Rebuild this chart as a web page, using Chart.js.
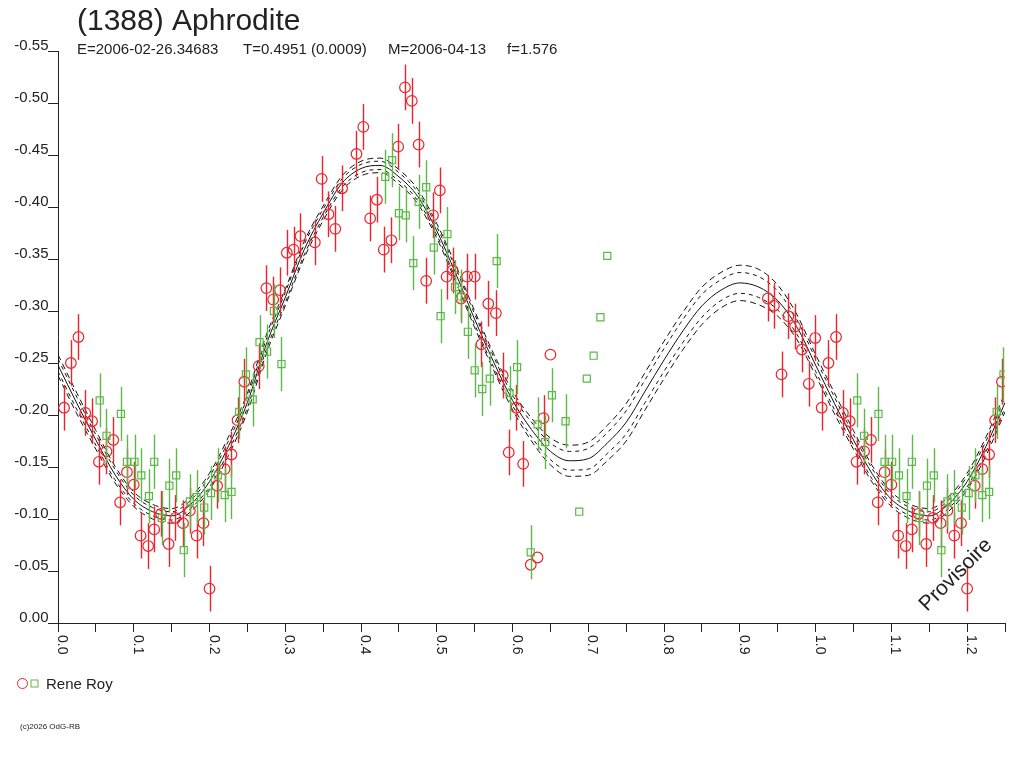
<!DOCTYPE html>
<html><head><meta charset="utf-8">
<script src="https://cdn.jsdelivr.net/npm/chart.js@4.4.0/dist/chart.umd.min.js"></script>
<style>html,body{margin:0;padding:0;background:#fff;overflow:hidden}#wrap{width:1024px;height:768px}</style>
</head><body><div id="wrap"><canvas id="c" width="1024" height="768"></canvas></div>
<script>
const titleText = "(1388) Aphrodite";
const subtitleParts = ["E=2006-02-26.34683", "T=0.4951 (0.0009)", "M=2006-04-13", "f=1.576"];
const observerName = "Rene Roy";
const copyrightText = "(c)2026 OdG-RB";
const watermarkText = "Provisoire";

const xTickMarks = [0,0.05,0.1,0.15,0.2,0.25,0.3,0.35,0.4,0.45,0.5,0.55,0.6,0.65,0.7,0.75,0.8,0.85,0.9,0.95,1.0,1.05,1.1,1.15,1.2,1.25];
const xLabelValues = [0,0.1,0.2,0.3,0.4,0.5,0.6,0.7,0.8,0.9,1.0,1.1,1.2];
const xLabels = ["0.0","0.1","0.2","0.3","0.4","0.5","0.6","0.7","0.8","0.9","1.0","1.1","1.2"];
const yTickValues = [-0.55,-0.5,-0.45,-0.4,-0.35,-0.3,-0.25,-0.2,-0.15,-0.1,-0.05,0];
const yLabels = ["-0.55","-0.50","-0.45","-0.40","-0.35","-0.30","-0.25","-0.20","-0.15","-0.10","-0.05","0.00"];

// Red circles (phase, magnitude, error)
const redPhase = [0.008,0.017,0.027,0.036,0.045,0.054,0.064,0.073,0.082,0.091,0.100,0.109,0.119,0.127,0.136,0.146,0.155,0.165,0.174,0.183,0.192,0.200,0.210,0.220,0.229,0.237,0.246,
  0.265,0.275,0.284,0.293,0.302,0.311,0.320,0.339,0.348,0.357,0.366,0.375,0.394,0.403,0.412,0.421,0.430,0.440,0.449,0.458,0.467,0.476,0.486,
  0.495,0.504,0.513,0.521,0.532,0.540,0.550,0.559,0.568,0.578,0.587,0.595,0.605,0.614,0.624,0.633,0.641,0.650,
  0.937,0.945,0.955,0.964,0.973,0.982,0.991,0.9995];
const redMag = [-0.207,-0.250,-0.275,-0.202,-0.194,-0.155,-0.165,-0.176,-0.116,-0.145,-0.133,-0.084,-0.074,-0.090,-0.105,-0.076,-0.101,-0.096,-0.108,-0.084,-0.096,-0.033,-0.132,-0.148,-0.162,-0.195,-0.232,
  -0.247,-0.322,-0.311,-0.320,-0.356,-0.359,-0.372,-0.366,-0.427,-0.393,-0.379,-0.418,-0.451,-0.477,-0.389,-0.407,-0.359,-0.368,-0.458,-0.515,-0.502,-0.460,-0.329,
  -0.392,-0.416,-0.333,-0.339,-0.312,-0.333,-0.333,-0.268,-0.307,-0.298,-0.238,-0.164,-0.207,-0.153,-0.056,-0.063,-0.197,-0.258,
  -0.312,-0.305,-0.239,-0.295,-0.285,-0.263,-0.230,-0.274];
const redErr = [0.022,0.022,0.022,0.022,0.022,0.022,0.022,0.022,0.022,0.022,0.022,0.022,0.022,0.022,0.022,0.022,0.022,0.022,0.022,0.022,0.022,0.022,0.022,0.022,0.022,0.022,0.022,
  0.022,0.022,0.022,0.022,0.022,0.022,0.022,0.022,0.022,0.022,0.022,0.022,0.022,0.022,0.022,0.022,0.022,0.022,0.022,0.022,0.022,0.022,0.022,
  0.022,0.022,0.022,0.022,0.022,0.022,0.022,0.022,0.022,0.022,0.022,0.022,0.022,0.022,0,0,0.022,0,
  0.022,0.022,0.022,0.022,0.022,0.022,0.022,0.022];

// Green squares (phase, magnitude, error)
const greenPhase = [0.055,0.064,0.083,0.091,0.101,0.110,0.120,0.127,0.137,0.147,0.156,0.166,0.174,0.183,0.193,0.202,0.211,0.220,0.229,0.239,0.248,0.257,
  0.266,0.276,0.285,0.295,0.432,0.441,0.450,0.459,0.469,0.476,0.486,
  0.496,0.505,0.514,0.524,0.532,0.541,0.550,0.560,0.570,0.579,0.596,0.606,0.624,0.633,0.643,0.652,0.670,0.688,0.698,0.707,0.716,0.725];
const greenMag = [-0.214,-0.180,-0.201,-0.155,-0.155,-0.142,-0.122,-0.155,-0.101,-0.132,-0.142,-0.070,-0.117,-0.121,-0.111,-0.125,-0.142,-0.123,-0.126,-0.203,-0.239,-0.215,
  -0.270,-0.261,-0.300,-0.249,-0.429,-0.445,-0.394,-0.392,-0.346,-0.405,-0.419,
  -0.361,-0.295,-0.374,-0.323,-0.314,-0.280,-0.243,-0.225,-0.235,-0.348,-0.221,-0.246,-0.068,-0.191,-0.174,-0.219,-0.194,-0.107,-0.235,-0.257,-0.294,-0.353];
const greenErr = [0.026,0.026,0.026,0.026,0.026,0.026,0.026,0.026,0.026,0.026,0.026,0.026,0.026,0.026,0.026,0.026,0.026,0.026,0.026,0.026,0.026,0.026,
  0.026,0.026,0.026,0.026,0.026,0.026,0.026,0.026,0.026,0.026,0.026,
  0.026,0.026,0.026,0.026,0.026,0.026,0.026,0.026,0.026,0.026,0.026,0.026,0.026,0.026,0.026,0.026,0.026,0,0,0,0,0];

// Fitted curve (one period) and its uncertainty envelopes
const curvePhase = [0,0.025,0.05,0.075,0.1,0.125,0.15,0.175,0.2,0.225,0.25,0.275,0.3,0.325,0.35,0.375,0.4,0.425,0.45,0.475,0.5,0.525,0.55,0.575,0.6,0.625,0.65,0.675,0.7,0.725,0.75,0.775,0.8,0.825,0.85,0.875,0.9,0.925,0.95,0.975,1.0];
const curveMag = [-0.248,-0.211,-0.176,-0.143,-0.119,-0.107,-0.103,-0.114,-0.136,-0.170,-0.212,-0.268,-0.313,-0.359,-0.394,-0.423,-0.437,-0.440,-0.429,-0.410,-0.377,-0.336,-0.292,-0.251,-0.214,-0.186,-0.165,-0.156,-0.158,-0.173,-0.193,-0.223,-0.253,-0.281,-0.305,-0.320,-0.327,-0.323,-0.310,-0.285,-0.248];
const bandOuter = [0.010,0.010,0.009,0.008,0.007,0.007,0.007,0.007,0.008,0.009,0.009,0.009,0.008,0.008,0.007,0.007,0.007,0.007,0.007,0.007,0.007,0.008,0.008,0.008,0.009,0.011,0.013,0.015,0.016,0.017,0.018,0.018,0.018,0.018,0.018,0.017,0.017,0.017,0.015,0.012,0.010];
const bandInner = [0.006,0.006,0.005,0.005,0.004,0.004,0.004,0.004,0.005,0.005,0.005,0.005,0.005,0.005,0.004,0.004,0.004,0.004,0.004,0.004,0.004,0.005,0.005,0.005,0.005,0.007,0.008,0.009,0.010,0.010,0.011,0.011,0.011,0.011,0.011,0.010,0.010,0.010,0.009,0.007,0.006];

const PHASE_MAX = 1.25;
const FONT = '"Liberation Sans", Arial, sans-serif';
const INK = '#222';
const RED = '#f0222a';
const GREEN = '#5cb847';

function pointsWithWrap(ph, mg, er) {
  const out = [];
  for (let i = 0; i < ph.length; i++) {
    out.push({x: ph[i], y: mg[i], e: er[i]});
    if (ph[i] + 1 <= PHASE_MAX) out.push({x: ph[i] + 1, y: mg[i], e: er[i]});
  }
  return out;
}
function curveWithWrap(offsets, sign) {
  const out = [];
  for (let i = 0; i < curvePhase.length; i++) {
    const v = curveMag[i] + (offsets ? sign * offsets[i] : 0);
    out.push({x: curvePhase[i], y: v});
  }
  for (let i = 1; i < curvePhase.length; i++) {
    if (curvePhase[i] + 1 > PHASE_MAX + 1e-9) break;
    const v = curveMag[i] + (offsets ? sign * offsets[i] : 0);
    out.push({x: curvePhase[i] + 1, y: v});
  }
  return out;
}

const lineBase = {showLine: true, pointRadius: 0, borderColor: '#111', borderWidth: 1, cubicInterpolationMode: 'monotone', fill: false};

const errorBars = {
  id: 'errorBars',
  beforeDatasetDraw(chart, args) {
    const ds = chart.data.datasets[args.index];
    if (!ds.isObs) return;
    const ys = chart.scales.y, ctx = chart.ctx, ca = chart.chartArea;
    ctx.save();
    ctx.beginPath(); ctx.rect(ca.left, ca.top, ca.right - ca.left, ca.bottom - ca.top + 1); ctx.clip();
    ctx.strokeStyle = ds.borderColor; ctx.lineWidth = 1.4;
    ds.data.forEach((p, i) => {
      if (!p.e) return;
      const el = args.meta.data[i];
      const px = Math.round(el.x) + 0.5;
      ctx.beginPath();
      ctx.moveTo(px, ys.getPixelForValue(p.y - p.e));
      ctx.lineTo(px, ys.getPixelForValue(p.y + p.e));
      ctx.stroke();
    });
    ctx.restore();
  }
};

const texts = {
  id: 'texts',
  afterDraw(chart) {
    const ctx = chart.ctx, xs = chart.scales.x, ys = chart.scales.y;
    ctx.save();
    ctx.fillStyle = INK;
    ctx.textBaseline = 'alphabetic';
    // title
    ctx.textAlign = 'left';
    ctx.font = '30px ' + FONT;
    ctx.fillText(titleText, 77, 30);
    // subtitle
    ctx.font = '15px ' + FONT;
    const subX = [77, 243, 388, 507];
    subtitleParts.forEach((t, i) => ctx.fillText(t, subX[i], 54));
    // y labels
    ctx.font = '15px ' + FONT;
    ctx.textAlign = 'right';
    yTickValues.forEach((v, i) => ctx.fillText(yLabels[i], 48.5, ys.getPixelForValue(v) - 1));
    // x labels rotated clockwise
    ctx.font = '14px ' + FONT;
    ctx.textAlign = 'left';
    xLabelValues.forEach((v, i) => {
      const px = xs.getPixelForValue(v);
      ctx.save();
      ctx.translate(px, 635);
      ctx.rotate(Math.PI / 2);
      ctx.fillText(xLabels[i], 0, 0);
      ctx.restore();
    });
    // legend
    ctx.lineWidth = 1;
    ctx.strokeStyle = RED;
    ctx.beginPath(); ctx.arc(22.5, 683.5, 5, 0, Math.PI * 2); ctx.stroke();
    ctx.strokeStyle = GREEN;
    ctx.strokeRect(31, 680, 7, 7);
    ctx.fillStyle = INK;
    ctx.font = '15px ' + FONT;
    ctx.fillText(observerName, 46, 688.5);
    // copyright
    ctx.font = '8px ' + FONT;
    ctx.fillText(copyrightText, 20, 728.5);
    // watermark
    ctx.save();
    ctx.translate(927, 612);
    ctx.rotate(-45 * Math.PI / 180);
    ctx.font = '21px ' + FONT;
    ctx.fillText(watermarkText, 0, 0);
    ctx.restore();
    ctx.restore();
  }
};

new Chart(document.getElementById('c'), {
  type: 'scatter',
  data: {
    datasets: [
      {label: observerName, isObs: true, data: pointsWithWrap(greenPhase, greenMag, greenErr), pointStyle: 'rect', pointRadius: 5, borderColor: GREEN, backgroundColor: 'rgba(0,0,0,0)', borderWidth: 1.2},
      {label: observerName, isObs: true, data: pointsWithWrap(redPhase, redMag, redErr), pointStyle: 'circle', pointRadius: 5.3, borderColor: RED, backgroundColor: 'rgba(0,0,0,0)', borderWidth: 1.2},
      Object.assign({label: 'fit', data: curveWithWrap(null, 0)}, lineBase),
      Object.assign({label: 'fit+1', data: curveWithWrap(bandInner, 1), borderDash: [4, 4]}, lineBase),
      Object.assign({label: 'fit-1', data: curveWithWrap(bandInner, -1), borderDash: [4, 4]}, lineBase),
      Object.assign({label: 'fit+2', data: curveWithWrap(bandOuter, 1), borderDash: [6, 4]}, lineBase),
      Object.assign({label: 'fit-2', data: curveWithWrap(bandOuter, -1), borderDash: [6, 4]}, lineBase)
    ]
  },
  options: {
    responsive: false,
    animation: false,
    devicePixelRatio: 1,
    layout: {padding: {left: 0, top: 51, right: 19, bottom: 135}},
    plugins: {legend: {display: false}, tooltip: {enabled: false}, title: {display: false}},
    scales: {
      x: {
        type: 'linear', min: 0, max: PHASE_MAX,
        afterBuildTicks(s) { s.ticks = xTickMarks.map(v => ({value: v})); },
        afterFit(s) { s.height = 10; },
        ticks: {display: false},
        grid: {drawOnChartArea: false, drawTicks: true, tickLength: 9, color: INK, lineWidth: 1},
        border: {display: true, color: INK, width: 1}
      },
      y: {
        type: 'linear', min: -0.55, max: 0, reverse: true,
        afterBuildTicks(s) { s.ticks = yTickValues.map(v => ({value: v})); },
        afterFit(s) { s.width = 58; },
        ticks: {display: false},
        grid: {drawOnChartArea: false, drawTicks: true, tickLength: 10, color: INK, lineWidth: 1},
        border: {display: true, color: INK, width: 1}
      }
    }
  },
  plugins: [errorBars, texts]
});
</script>
</body></html>
